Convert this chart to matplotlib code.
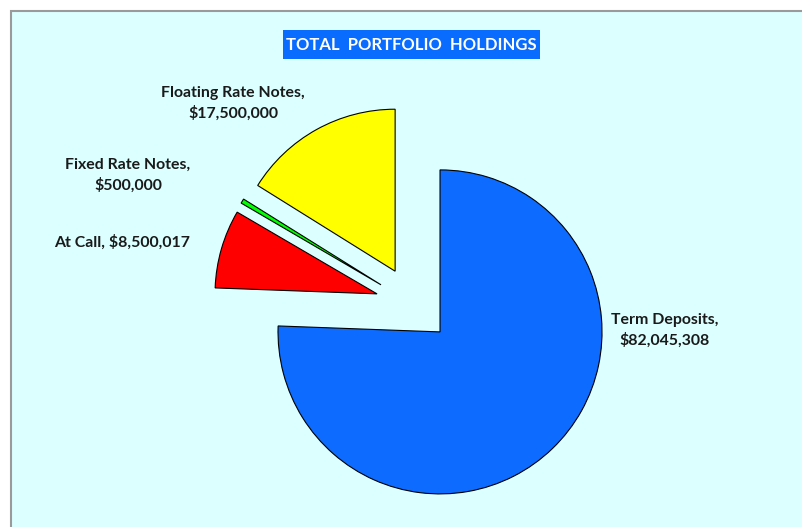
import matplotlib.pyplot as plt
from matplotlib.patches import Rectangle

labels = ["Term Deposits", "At Call", "Fixed Rate Notes", "Floating Rate Notes"]
values = [82045308, 8500017, 500000, 17500000]
colors = ["#0D6BFF", "#FF0000", "#00FF00", "#FFFF00"]
explode = [0.235, 0.235, 0.235, 0.235]

W, H = 803, 527
R = 162.0            # pie radius in px
cx, cy = 413.6, 304.5  # pie centre in px (from top-left)

fig = plt.figure(figsize=(W / 100, H / 100), dpi=100)
fig.patch.set_facecolor("white")

# chart area with grey frame (runs off the right and bottom edges)
fig.patches.append(Rectangle((11 / W, -0.02), 1, 1.02 - 11 / H, transform=fig.transFigure,
                             facecolor="#DCFFFF", edgecolor="#9A9A9A", linewidth=1.5,
                             zorder=-2))

ax = fig.add_axes([0, 0, 1, 1])
ax.set_facecolor("none")
wedges, _ = ax.pie(values, colors=colors, explode=explode, startangle=90,
                   counterclock=False, radius=1,
                   wedgeprops=dict(edgecolor="black", linewidth=0.8))
ax.set_xlim(-cx / R, (W - cx) / R)
ax.set_ylim(-(H - cy) / R, cy / R)
ax.set_aspect("auto")
ax.axis("off")

font = "Lato"
lab_kw = dict(ha="center", va="center", fontsize=11.4, fontweight="bold",
              family=font, color="#1a1a1a", linespacing=1.45)


def px(x, y):
    return x / W, 1 - y / H


fig.text(*px(665, 330), f"{labels[0]},\n${values[0]:,}", **lab_kw)
fig.text(*px(122, 242), f"{labels[1]}, ${values[1]:,}", **lab_kw)
fig.text(*px(128, 175), f"{labels[2]},\n${values[2]:,}", **lab_kw)
fig.text(*px(233, 103), f"{labels[3]},\n${values[3]:,}", **lab_kw)

# title with blue box
fig.patches.append(Rectangle(px(283, 59), 257 / W, 29 / H, transform=fig.transFigure,
                             facecolor="#0A6CFF", edgecolor="none", zorder=2))
fig.text(*px(411, 45), "TOTAL  PORTFOLIO  HOLDINGS", ha="center", va="center",
         fontsize=12, fontweight="bold", family=font, color="white", zorder=3)

fig.savefig("out.png", dpi=100)
